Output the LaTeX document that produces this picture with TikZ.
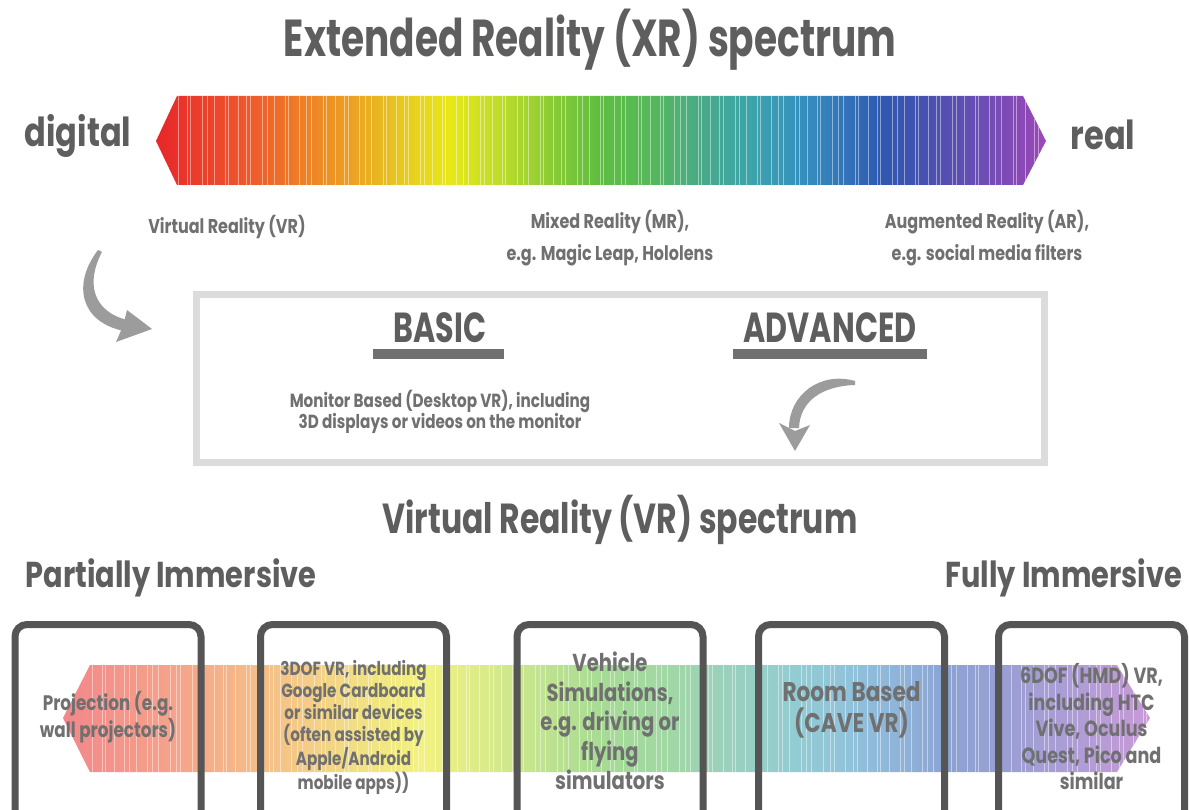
\documentclass[tikz,border=0pt]{standalone}
\usepackage{fontspec}
\setmainfont{Poppins}
\newfontfamily\nar{Poppins}[FakeStretch=0.8]
\newfontfamily\narr{Poppins}[FakeStretch=0.72]
\newfontfamily\narm{Poppins}[FakeStretch=0.75]
\definecolor{txt}{HTML}{5E5E5E}
\definecolor{lbl}{HTML}{707070}
\definecolor{boxline}{HTML}{555555}
\definecolor{lightbox}{HTML}{DCDCDC}
\definecolor{agray}{HTML}{9C9C9C}
\definecolor{c0}{HTML}{E8262A}
\definecolor{c1}{HTML}{EE5A2C}
\definecolor{c2}{HTML}{EE7E26}
\definecolor{c3}{HTML}{ECA024}
\definecolor{c4}{HTML}{E6C820}
\definecolor{c5}{HTML}{E8E818}
\definecolor{c6}{HTML}{BEDC2A}
\definecolor{c7}{HTML}{8CCC34}
\definecolor{c8}{HTML}{5EBE40}
\definecolor{c9}{HTML}{56B85A}
\definecolor{c10}{HTML}{48AA88}
\definecolor{c11}{HTML}{3CA4AC}
\definecolor{c12}{HTML}{3690BE}
\definecolor{c13}{HTML}{3270B8}
\definecolor{c14}{HTML}{2E58B0}
\definecolor{c15}{HTML}{4A50B0}
\definecolor{c16}{HTML}{6A4EB4}
\definecolor{c17}{HTML}{9048B6}
\definecolor{c18}{HTML}{A048BC}
\pgfdeclarehorizontalshading{xr}{100bp}{color(0bp)=(c0); color(25bp)=(c0); color(30.3bp)=(c1); color(33.1bp)=(c2); color(35.9bp)=(c3); color(38.7bp)=(c4); color(41.5bp)=(c5); color(44.3bp)=(c6); color(47.1bp)=(c7); color(49.9bp)=(c8); color(52.75bp)=(c9); color(55.6bp)=(c10); color(58.4bp)=(c11); color(61.2bp)=(c12); color(64bp)=(c13); color(65.7bp)=(c14); color(68.5bp)=(c15); color(71.3bp)=(c16); color(74.1bp)=(c17); color(75bp)=(c18); color(100bp)=(c18)}
\begin{document}
\begin{tikzpicture}[x=1pt,y=-1pt,
  every node/.style={inner sep=0pt, outer sep=0pt},
  bigtitle/.style={font=\narr\bfseries\fontsize{52}{60}\selectfont, text=txt},
  subtitle/.style={font=\narm\bfseries\fontsize{42}{50}\selectfont, text=txt},
  endlabel/.style={font=\nar\bfseries\fontsize{40}{48}\selectfont, text=txt},
  immlabel/.style={font=\nar\bfseries\fontsize{36}{44}\selectfont, text=txt},
  catlabel/.style={font=\narr\bfseries\fontsize{42}{50}\selectfont, text=txt},
  smalllabel/.style={font=\nar\bfseries\fontsize{20}{32}\selectfont, text=lbl, align=center},
  montext/.style={font=\nar\bfseries\fontsize{19}{20}\selectfont, text=lbl, align=center},
  boxtext/.style={font=\nar\bfseries\fontsize{21}{27}\selectfont, text=lbl, align=center},
  vrbox/.style={draw=boxline, line width=7pt, rounded corners=12pt, minimum width=186pt, minimum height=220pt, anchor=north},
  stripe/.style={white, opacity=.45, line width=.8pt}
]
\useasboundingbox (0,0) rectangle (1189,810);
\fill[white] (0,0) rectangle (1189,810);

% title
\node[bigtitle] (title) at (590,40) {Extended Reality (XR) spectrum};

% top spectrum arrow
\begin{scope}
\clip (156,141) -- (177,96) -- (1023,96) -- (1046,141) -- (1023,185) -- (177,185) -- cycle;
\shade[shading=xr] (156,96) rectangle (1046,185);
\foreach \i in {0,...,115} {
  \pgfmathsetmacro\xx{178+\i*7.5+2.5*sin(\i*137)}
  \draw[stripe] (\xx,90) -- (\xx,190);
}
\end{scope}
\node[endlabel] (digital) at (78,136) {digital};
\node[endlabel] (real) at (1103,135) {real};

% XR labels
\node[smalllabel] (vr) at (227,227) {Virtual Reality (VR)};
\node[smalllabel] (mr) at (610,238) {Mixed Reality (MR),\\e.g. Magic Leap, Hololens};
\node[smalllabel] (ar) at (987,238) {Augmented Reality (AR),\\e.g. social media filters};

% left curved arrow
\fill[agray] (98,250) .. controls (72,284) and (80,322) .. (124,331) -- (127,320) .. controls (92,311) and (86,282) .. (102,252) -- cycle;
\fill[agray] (127,310) -- (152,329) -- (116,342) -- (123,326) -- cycle;

% basic/advanced box
\node[draw=lightbox, line width=7pt, minimum width=848pt, minimum height=168pt] (lb) at (620.5,378.5) {};
\node[catlabel] (basic) at (440,328) {BASIC};
\fill[lbl] (373,349) rectangle (504,359);
\node[catlabel] (adv) at (830,328) {ADVANCED};
\fill[lbl] (733,349) rectangle (927,359);
\node[montext] (mon) at (440,412) {Monitor Based (Desktop VR), including\\3D displays or videos on the monitor};

% right curved arrow
\fill[agray] (855,381) .. controls (820,371) and (789,395) .. (789,428) -- (799,428) .. controls (800,401) and (822,386) .. (855,385) -- cycle;
\fill[agray] (779,423) -- (795,451) -- (810,425) -- (795,431) -- cycle;

% VR spectrum
\node[subtitle] (vrtitle) at (620,520) {Virtual Reality (VR) spectrum};
\node[immlabel] (partial) at (171,578) {Partially Immersive};
\node[immlabel] (full) at (1064,578) {Fully Immersive};

% bottom spectrum arrow
\begin{scope}
\clip (63,718) -- (90,665) -- (1117,665) -- (1150,718) -- (1117,772) -- (90,772) -- cycle;
\shade[shading=xr, opacity=.55] (63,665) rectangle (1150,772);
\foreach \i in {0,...,140} {
  \pgfmathsetmacro\xx{92+\i*7.6+2.5*sin(\i*113)}
  \draw[stripe] (\xx,660) -- (\xx,780);
}
\end{scope}

% boxes
\node[vrbox] (b1) at (108,624.5) {};
\node[vrbox] (b2) at (353.5,624.5) {};
\node[vrbox] (b3) at (610,624.5) {};
\node[vrbox] (b4) at (851.5,624.5) {};
\node[vrbox] (b5) at (1091.5,624.5) {};

\node[boxtext] (t1) at (108,717) {Projection (e.g.\\wall projectors)};
\node[boxtext, font=\nar\bfseries\fontsize{19}{22.2}\selectfont] (t2) at (353.5,727) {3DOF VR, including\\Google Cardboard\\or similar devices\\(often assisted by\\Apple/Android\\mobile apps))};
\node[boxtext, font=\nar\bfseries\fontsize{24.5}{29.5}\selectfont] (t3) at (610,721) {Vehicle\\Simulations,\\e.g. driving or\\flying\\simulators};
\node[boxtext, font=\nar\bfseries\fontsize{27}{31}\selectfont] (t4) at (851.5,710) {Room Based\\(CAVE VR)};
\node[boxtext, font=\nar\bfseries\fontsize{22}{26.5}\selectfont] (t5) at (1091.5,727) {6DOF (HMD) VR,\\including HTC\\Vive, Oculus\\Quest, Pico and\\similar};
\end{tikzpicture}
\end{document}
